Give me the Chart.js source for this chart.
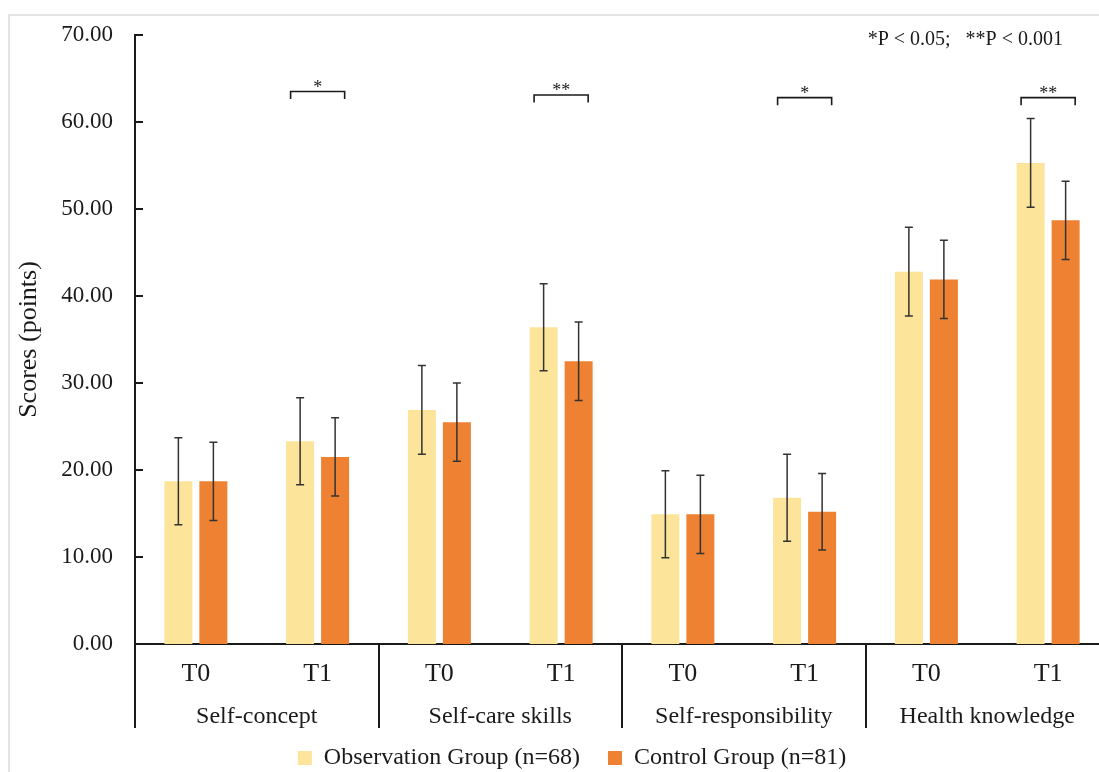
<!DOCTYPE html>
<html>
<head>
<meta charset="utf-8">
<title>Scores by group</title>
<script src="https://cdn.jsdelivr.net/npm/chart.js@4.4.1/dist/chart.umd.min.js"></script>
<style>
  html, body { margin: 0; padding: 0; background: #fff; overflow: hidden; }
  #wrap { position: relative; width: 1099px; height: 772px; overflow: hidden; }
  #frame { position: absolute; left: 8px; top: 14px; width: 1200px; height: 900px;
           border-left: 2px solid #e4e4e4; border-top: 2px solid #e4e4e4; }
  #chart { position: absolute; left: 0; top: 0; }
</style>
</head>
<body>
<div id="wrap">
  <div id="frame"></div>
  <canvas id="chart" width="1112" height="772"></canvas>
</div>
<script>
// values
const timepoints = ['T0', 'T1', 'T0', 'T1', 'T0', 'T1', 'T0', 'T1'];
const domains = ['Self-concept', 'Self-care skills', 'Self-responsibility', 'Health knowledge'];

const observation = [18.7, 23.3, 26.9, 36.4, 14.9, 16.8, 42.8, 55.3];
const observationSd = [5.0, 5.0, 5.1, 5.0, 5.0, 5.0, 5.1, 5.1];
const control = [18.7, 21.5, 25.5, 32.5, 14.9, 15.2, 41.9, 48.7];
const controlSd = [4.5, 4.5, 4.5, 4.5, 4.5, 4.4, 4.5, 4.5];

const significance = ['', '*', '', '**', '', '*', '', '**'];
const bracketLevel = [null, 63.5, null, 63.1, null, 62.8, null, 62.8];
const pNote = '*P < 0.05;   **P < 0.001';

const serif = "'Liberation Serif', 'Times New Roman', serif";
const ink = '#1a1a1a';

Chart.defaults.font.family = serif;
Chart.defaults.color = ink;

const errorBars = {
  id: 'errorBars',
  afterDatasetsDraw(chart) {
    const ctx = chart.ctx;
    const y = chart.scales.y;
    chart.data.datasets.forEach((ds, i) => {
      const meta = chart.getDatasetMeta(i);
      meta.data.forEach((bar, j) => {
        const top = y.getPixelForValue(ds.data[j] + ds.errors[j]);
        const bottom = y.getPixelForValue(ds.data[j] - ds.errors[j]);
        ctx.save();
        ctx.strokeStyle = '#333';
        ctx.lineWidth = 1.5;
        ctx.beginPath();
        ctx.moveTo(bar.x, top); ctx.lineTo(bar.x, bottom);
        ctx.moveTo(bar.x - 4, top); ctx.lineTo(bar.x + 4, top);
        ctx.moveTo(bar.x - 4, bottom); ctx.lineTo(bar.x + 4, bottom);
        ctx.stroke();
        ctx.restore();
      });
    });
  }
};

const decorations = {
  id: 'decorations',
  afterLayout(chart) {
    // legend sits a little left of the page centre in the figure
    const lg = chart.legend;
    const pad = lg.options.labels.padding;
    const dx = 572 - (lg.left + lg.right) / 2;
    lg.left += dx;
    lg.right += dx;
    lg.top += 758 - (lg.top + pad + 12);
  },
  afterDraw(chart) {
    const ctx = chart.ctx;
    const x = chart.scales.x, y = chart.scales.y, x2 = chart.scales.x2;
    const area = chart.chartArea;
    ctx.save();
    ctx.strokeStyle = ink;
    ctx.lineWidth = 2;

    // inward tick marks on the value axis
    ctx.beginPath();
    y.ticks.forEach(t => {
      const py = Math.round(y.getPixelForValue(t.value));
      ctx.moveTo(area.left, py);
      ctx.lineTo(area.left + 8, py);
    });
    ctx.stroke();

    // group separators under the category axis
    ctx.beginPath();
    for (let k = 0; k <= domains.length; k++) {
      const px = Math.round(x.getPixelForValue(k * 2 - 0.5));
      ctx.moveTo(px, area.bottom);
      ctx.lineTo(px, x2.bottom - 4);
    }
    ctx.stroke();

    // significance brackets
    const half = x.width / timepoints.length * 0.222;
    ctx.lineWidth = 1.6;
    ctx.font = '18px ' + serif;
    ctx.fillStyle = ink;
    ctx.textAlign = 'center';
    ctx.textBaseline = 'alphabetic';
    significance.forEach((s, i) => {
      if (!s) return;
      const cx = x.getPixelForValue(i);
      const by = y.getPixelForValue(bracketLevel[i]);
      ctx.beginPath();
      ctx.moveTo(cx - half, by + 7.5);
      ctx.lineTo(cx - half, by);
      ctx.lineTo(cx + half, by);
      ctx.lineTo(cx + half, by + 7.5);
      ctx.stroke();
      ctx.fillText(s, cx, by + 1);
    });

    // p-value note
    ctx.font = '20px ' + serif;
    ctx.textAlign = 'right';
    ctx.fillText(pNote, 1063, 45);
    ctx.restore();
  }
};

new Chart(document.getElementById('chart'), {
  type: 'bar',
  data: {
    labels: timepoints,
    datasets: [
      {
        label: 'Observation Group (n=68)',
        data: observation,
        errors: observationSd,
        backgroundColor: '#fce49b',
        borderWidth: 0
      },
      {
        label: 'Control Group (n=81)',
        data: control,
        errors: controlSd,
        backgroundColor: '#ee8232',
        borderWidth: 0
      }
    ]
  },
  options: {
    responsive: false,
    animation: false,
    devicePixelRatio: 1,
    categoryPercentage: 0.575,
    barPercentage: 0.8,
    layout: { padding: { top: 35, right: 3, left: 0, bottom: 0 } },
    plugins: {
      legend: {
        position: 'bottom',
        maxHeight: 40,
        labels: {
          boxWidth: 14,
          boxHeight: 14,
          padding: 28,
          color: ink,
          font: { size: 24 }
        }
      },
      tooltip: { enabled: false }
    },
    scales: {
      x: {
        weight: 0,
        grid: { display: false },
        border: { display: true, color: ink, width: 2 },
        ticks: { padding: 7, color: ink, font: { size: 26 } },
        afterFit(axis) { axis.height = 48; }
      },
      x2: {
        type: 'category',
        labels: domains,
        position: 'bottom',
        offset: true,
        weight: 1,
        grid: { display: false },
        border: { display: false },
        ticks: { padding: 2, color: ink, font: { size: 24 } },
        afterFit(axis) { axis.height = 40; }
      },
      y: {
        min: 0,
        max: 70,
        ticks: {
          stepSize: 10,
          padding: 14,
          color: ink,
          font: { size: 23 },
          callback: v => v.toFixed(2)
        },
        grid: { display: false },
        border: { display: true, color: ink, width: 2 },
        title: {
          display: true,
          text: 'Scores (points)',
          color: ink,
          font: { size: 26 },
          padding: { top: 14, bottom: 0 }
        },
        afterFit(axis) { axis.width = 135; }
      }
    }
  },
  plugins: [errorBars, decorations]
});
</script>
</body>
</html>
